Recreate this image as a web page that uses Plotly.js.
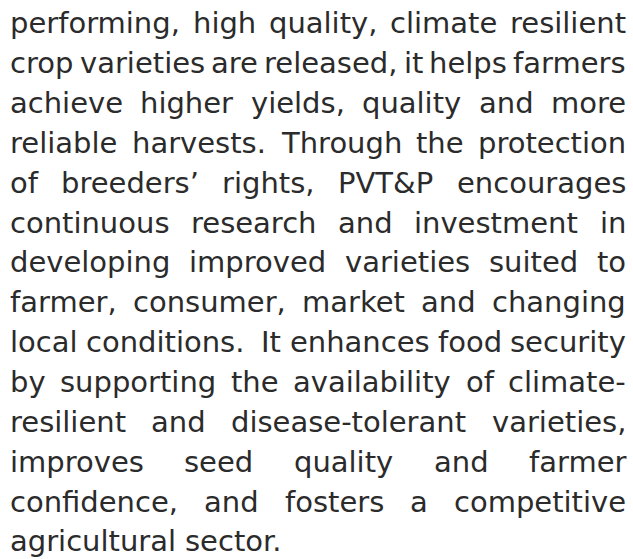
<!DOCTYPE html>
<html>
<head>
<meta charset="utf-8">
<script src="https://cdn.plot.ly/plotly-3.0.1.min.js"></script>
<style>
  html, body { margin: 0; padding: 0; background: #ffffff; }
  #chart { width: 633px; height: 559px; }
</style>
</head>
<body>
<div id="chart"></div>
<script>
// ---- content (one entry per printed line of the paragraph) ----
const lines = [
  "performing, high quality, climate resilient",
  "crop varieties are released, it helps farmers",
  "achieve higher yields, quality and more",
  "reliable harvests. Through the protection",
  "of breeders\u2019 rights, PVT&P encourages",
  "continuous research and investment in",
  "developing improved varieties suited to",
  "farmer, consumer, market and changing",
  "local conditions.  It enhances food security",
  "by supporting the availability of climate-",
  "resilient and disease-tolerant varieties,",
  "improves seed quality and farmer",
  "confidence, and fosters a competitive",
  "agricultural sector."
];

// ---- layout / style ----
const W = 633, H = 559;
const FONT = "DejaVu Sans";
const SIZE = 29;
const COLOR = "#2b2b2b";
const LEFT = 10, RIGHT = 626;
const BASE0 = 33.5, LEAD = 39.85;

const canvas = document.createElement("canvas");
const ctx = canvas.getContext("2d");
ctx.font = SIZE + "px '" + FONT + "'";
const spaceW = ctx.measureText(" ").width;

function esc(s) { return s.replace(/&/g, "&amp;").replace(/</g, "&lt;"); }

const annotations = [];
lines.forEach((line, i) => {
  // split into words, keeping gap weights (double space = weight 2)
  const parts = line.split(/( +)/);
  const words = [], gapsW = [];
  parts.forEach(p => {
    if (p.length === 0) return;
    if (/^ +$/.test(p)) gapsW.push(p.length); else words.push(p);
  });
  const widths = words.map(w => ctx.measureText(w).width);
  const total = widths.reduce((a, b) => a + b, 0);
  const last = i === lines.length - 1;
  const weightSum = gapsW.reduce((a, b) => a + b, 0);
  const unit = last || weightSum === 0 ? spaceW : (RIGHT - LEFT - total) / weightSum;
  const baseline = BASE0 + i * LEAD;
  // annotation 'middle' anchors at centre of text box; shift from baseline
  const yc = baseline - 0.35 * SIZE;
  let x = LEFT;
  words.forEach((w, k) => {
    annotations.push({
      x: x, y: yc, xref: "x", yref: "y",
      text: esc(w), showarrow: false,
      xanchor: "left", yanchor: "middle",
      borderpad: 0, borderwidth: 0,
      font: { family: FONT, size: SIZE, color: COLOR }
    });
    x += widths[k] + (k < gapsW.length ? gapsW[k] * unit : 0);
  });
});

const layout = {
  width: W, height: H,
  margin: { l: 0, r: 0, t: 0, b: 0, pad: 0 },
  paper_bgcolor: "#ffffff", plot_bgcolor: "#ffffff",
  xaxis: { range: [0, W], visible: false, fixedrange: true },
  yaxis: { range: [H, 0], visible: false, fixedrange: true },
  showlegend: false,
  annotations: annotations
};

Plotly.newPlot("chart", [], layout, { displayModeBar: false, staticPlot: true });
</script>
</body>
</html>
